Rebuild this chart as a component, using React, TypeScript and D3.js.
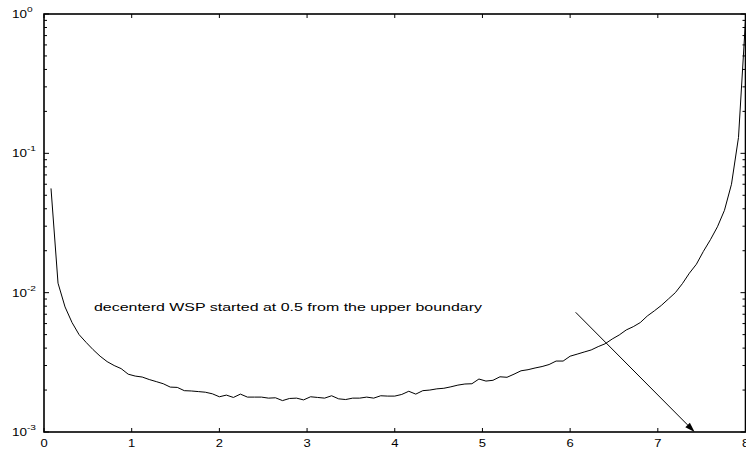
import React from "react";
import * as d3 from "d3";

// Sample positions along the channel and the measured quantity (log scale)
const xs: number[] = [
  0.08, 0.16, 0.24, 0.32, 0.4, 0.48, 0.56, 0.64, 0.72, 0.8,
  0.88, 0.96, 1.04, 1.12, 1.2, 1.28, 1.36, 1.44, 1.52, 1.6,
  1.68, 1.76, 1.84, 1.92, 2.0, 2.08, 2.16, 2.24, 2.32, 2.4,
  2.48, 2.56, 2.64, 2.72, 2.8, 2.88, 2.96, 3.04, 3.12, 3.2,
  3.28, 3.36, 3.44, 3.52, 3.6, 3.68, 3.76, 3.84, 3.92, 4.0,
  4.08, 4.16, 4.24, 4.32, 4.4, 4.48, 4.56, 4.64, 4.72, 4.8,
  4.88, 4.96, 5.04, 5.12, 5.2, 5.28, 5.36, 5.44, 5.52, 5.6,
  5.68, 5.76, 5.84, 5.92, 6.0, 6.08, 6.16, 6.24, 6.32, 6.4,
  6.48, 6.56, 6.64, 6.72, 6.8, 6.88, 6.96, 7.04, 7.12, 7.2,
  7.28, 7.36, 7.44, 7.52, 7.6, 7.68, 7.76, 7.84, 7.92, 8.0,
];

const ys: number[] = [
  0.056, 0.0117, 0.0079, 0.0061, 0.005, 0.0044, 0.0039, 0.0035, 0.0032, 0.003,
  0.00285, 0.0026, 0.00252, 0.00248, 0.00238, 0.0023, 0.00222, 0.0021, 0.00209, 0.00198,
  0.00197, 0.00195, 0.00193, 0.00188, 0.00179, 0.00184, 0.00177, 0.00187, 0.00178, 0.00178,
  0.00178, 0.00175, 0.00176, 0.00168, 0.00174, 0.00175, 0.0017, 0.00179, 0.00177, 0.00175,
  0.00182, 0.00173, 0.00171, 0.00175, 0.00175, 0.00178, 0.00175, 0.00182, 0.00181, 0.00181,
  0.00186, 0.00196, 0.00187, 0.00198, 0.002, 0.00204, 0.00206, 0.00211, 0.00217, 0.00221,
  0.00222, 0.0024, 0.00232, 0.00235, 0.00249, 0.00247, 0.0026, 0.00275, 0.0028, 0.00288,
  0.00295, 0.00305, 0.00323, 0.00323, 0.0035, 0.00362, 0.00375, 0.00388, 0.0041, 0.0043,
  0.00465, 0.00497, 0.0054, 0.0057, 0.0061, 0.0068, 0.0074, 0.0081, 0.009, 0.01,
  0.0116, 0.0138, 0.016, 0.0198, 0.024, 0.0297, 0.039, 0.06, 0.13, 0.9,
];

const xTicks: number[] = [0, 1, 2, 3, 4, 5, 6, 7, 8];
const yDecades: number[] = [1e-3, 1e-2, 1e-1, 1];
const yExponents: string[] = ["-3", "-2", "-1", "0"];

const annotation = "decenterd WSP started at 0.5 from the upper boundary";
const annotationAt: [number, number] = [0.57, 0.00739];
const arrowFrom: [number, number] = [6.063, 0.00723];
const arrowTo: [number, number] = [7.42, 0.001];

const W = 746;
const H = 454;
const left = 44;
const right = 745.5;
const top = 14;
const bottom = 432;
const FONT = "'Liberation Sans', Arial, Helvetica, sans-serif";

export default function App() {
  const x = d3.scaleLinear().domain([0, 8]).range([left, right]);
  const y = d3.scaleLog().domain([1e-3, 1]).range([bottom, top]);

  const pts = xs.map((v, i) => [v, ys[i]] as [number, number]);
  const line = d3
    .line<[number, number]>()
    .x((d) => x(d[0]))
    .y((d) => y(d[1]));

  // minor ticks 2..9 within each decade
  const minor: number[] = [];
  for (let k = 0; k < 3; k++) {
    for (let m = 2; m <= 9; m++) minor.push(m * yDecades[k]);
  }

  const ax0 = x(arrowFrom[0]);
  const ay0 = y(arrowFrom[1]);
  const ax1 = x(arrowTo[0]);
  const ay1 = y(arrowTo[1]);
  const ang = Math.atan2(ay1 - ay0, ax1 - ax0);
  const headLen = 10;
  const headW = 3.2;
  const bx = ax1 - headLen * Math.cos(ang);
  const by = ay1 - headLen * Math.sin(ang);
  const head = [
    [ax1, ay1],
    [bx + headW * Math.sin(ang), by - headW * Math.cos(ang)],
    [bx - headW * Math.sin(ang), by + headW * Math.cos(ang)],
  ]
    .map((p) => p.join(","))
    .join(" ");

  return (
    <svg
      width={W}
      height={H}
      style={{ position: "absolute", left: 0, top: 0, background: "#fff" }}
      fontFamily={FONT}
    >
      <rect x={0} y={0} width={W} height={H} fill="#fff" />
      <defs>
        <clipPath id="plot">
          <rect x={left} y={top} width={right - left} height={bottom - top} />
        </clipPath>
      </defs>

      {/* curve */}
      <path
        d={line(pts) || ""}
        fill="none"
        stroke="#000"
        strokeWidth={1}
        clipPath="url(#plot)"
      />

      {/* annotation arrow */}
      <line x1={ax0} y1={ay0} x2={bx} y2={by} stroke="#000" strokeWidth={1} />
      <polygon points={head} fill="#000" />

      <text
        x={x(annotationAt[0])}
        y={y(annotationAt[1])}
        fontSize={10.5}
        textLength={388}
        lengthAdjust="spacingAndGlyphs"
        fill="#000"
      >
        {annotation}
      </text>

      {/* x ticks, bottom and top */}
      {xTicks.map((t) => (
        <g key={"xt" + t}>
          <line x1={x(t)} x2={x(t)} y1={bottom} y2={bottom - 4} stroke="#000" strokeWidth={1} />
          <line x1={x(t)} x2={x(t)} y1={top} y2={top + 4} stroke="#000" strokeWidth={1} />
          <text
            transform={`translate(${x(t)},447) scale(1.3,1)`}
            textAnchor="middle"
            fontSize={10}
            fill="#000"
          >
            {t}
          </text>
        </g>
      ))}

      {/* y major ticks */}
      {yDecades.map((d, i) => (
        <g key={"yd" + i}>
          <line x1={left} x2={left + 5} y1={y(d)} y2={y(d)} stroke="#000" strokeWidth={1} />
          <line x1={right} x2={right - 5} y1={y(d)} y2={y(d)} stroke="#000" strokeWidth={1} />
          <text transform={`translate(12,${y(d) + 4}) scale(1.35,1)`} fontSize={10} fill="#000">
            10
            <tspan dy={-6} fontSize={7.5}>
              {yExponents[i]}
            </tspan>
          </text>
        </g>
      ))}

      {/* y minor ticks */}
      {minor.map((m, i) => (
        <g key={"ym" + i}>
          <line x1={left} x2={left + 3} y1={y(m)} y2={y(m)} stroke="#000" strokeWidth={1} />
          <line x1={right} x2={right - 3} y1={y(m)} y2={y(m)} stroke="#000" strokeWidth={1} />
        </g>
      ))}

      {/* frame */}
      <rect
        x={left}
        y={top}
        width={right - left}
        height={bottom - top}
        fill="none"
        stroke="#000"
        strokeWidth={1.6}
      />
    </svg>
  );
}
